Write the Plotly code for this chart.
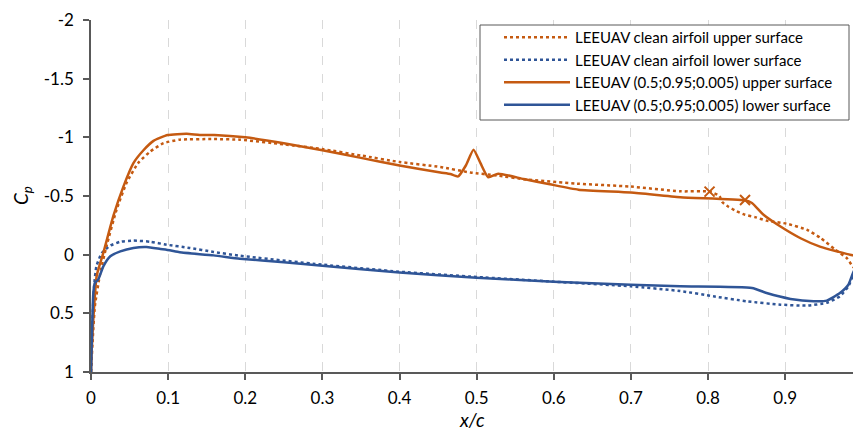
import plotly.graph_objects as go

ORANGE = "#C55A11"
BLUE = "#2F5597"

# Clean airfoil, upper surface
clean_up_x = [0, 0.002, 0.005, 0.012, 0.02, 0.033, 0.046, 0.061, 0.077, 0.094, 0.115, 0.159, 0.193,
              0.25, 0.3, 0.35, 0.4, 0.453, 0.492, 0.526, 0.565, 0.63, 0.7, 0.764, 0.802, 0.815,
              0.818, 0.826, 0.837, 0.848, 0.861, 0.876, 0.902, 0.928, 0.946, 0.965, 0.98, 0.986, 1.0]
clean_up_y = [1.0, 0.75, 0.44, 0.155, -0.07, -0.38, -0.61, -0.78, -0.88, -0.95, -0.98, -0.985, -0.98,
              -0.94, -0.9, -0.845, -0.79, -0.747, -0.70, -0.675, -0.64, -0.605, -0.58, -0.54, -0.537, -0.50,
              -0.45, -0.41, -0.37, -0.34, -0.32, -0.29, -0.264, -0.213, -0.142, -0.043, 0.03, 0.085, 0.2]

# Clean airfoil, lower surface
clean_lo_x = [0, 0.002, 0.004, 0.007, 0.014, 0.025, 0.038, 0.055, 0.077, 0.098, 0.128, 0.159, 0.193,
              0.3, 0.4, 0.5, 0.6, 0.7, 0.764, 0.807, 0.85, 0.894, 0.928, 0.954, 0.971, 0.982, 0.988, 1.0]
clean_lo_y = [1.0, 0.55, 0.27, 0.1, -0.014, -0.077, -0.11, -0.12, -0.11, -0.085, -0.057, -0.023, 0.009,
              0.085, 0.145, 0.19, 0.23, 0.27, 0.31, 0.355, 0.397, 0.426, 0.434, 0.41, 0.355, 0.27, 0.18, 0.05]

# Modified airfoil (0.5;0.95;0.005), upper surface
mod_up_x = [0, 0.001, 0.003, 0.0074, 0.016, 0.029, 0.042, 0.055, 0.068, 0.081, 0.0995, 0.124, 0.141,
            0.16, 0.2, 0.25, 0.3, 0.35, 0.4, 0.453, 0.466, 0.476, 0.486, 0.496, 0.505, 0.515, 0.528,
            0.561, 0.595, 0.632, 0.7, 0.764, 0.848, 0.857, 0.872, 0.894, 0.92, 0.946, 0.967, 0.988, 1.0]
mod_up_y = [1.0, 0.8, 0.55, 0.18, -0.015, -0.33, -0.58, -0.78, -0.89, -0.97, -1.02, -1.03, -1.02,
            -1.02, -1.0, -0.95, -0.89, -0.825, -0.76, -0.70, -0.687, -0.667, -0.76, -0.894, -0.78, -0.66, -0.69,
            -0.645, -0.60, -0.554, -0.53, -0.49, -0.463, -0.44, -0.34, -0.24, -0.14, -0.066, -0.028, 0.006, 0.02]

# Modified airfoil (0.5;0.95;0.005), lower surface
mod_lo_x = [0, 0.0013, 0.003, 0.005, 0.0095, 0.016, 0.025, 0.038, 0.055, 0.072, 0.09, 0.102, 0.115,
            0.159, 0.193, 0.25, 0.3, 0.4, 0.5, 0.6, 0.7, 0.764, 0.857, 0.876, 0.907, 0.937, 0.954,
            0.971, 0.982, 0.988, 1.0]
mod_lo_y = [1.0, 0.67, 0.33, 0.24, 0.21, 0.1, 0.014, -0.028, -0.057, -0.065, -0.048, -0.037, -0.02,
            0.006, 0.034, 0.065, 0.094, 0.153, 0.196, 0.23, 0.256, 0.27, 0.284, 0.327, 0.377, 0.397, 0.392,
            0.327, 0.256, 0.156, 0.0]

# Transition markers
trans_x = [0.802, 0.848]
trans_y = [-0.537, -0.466]

x_ticks = [0, 0.1, 0.2, 0.3, 0.4, 0.5, 0.6, 0.7, 0.8, 0.9]
x_ticktext = ["0", "0.1", "0.2", "0.3", "0.4", "0.5", "0.6", "0.7", "0.8", "0.9"]
y_ticks = [-2, -1.5, -1, -0.5, 0, 0.5, 1]
y_ticktext = ["-2", "-1.5", "-1", "-0.5", "0", "0.5", "1"]

FONT = "Lato, Calibri, sans-serif"

# plot-area geometry (pixels) used to place the legend frame and axis titles
L, R, T, B = 91, 853, 20, 372
W, H = R - L, B - T


def px(x):
    return (x - L) / W


def py(y):
    return (B - y) / H


fig = go.Figure()
fig.add_trace(go.Scatter(x=clean_up_x, y=clean_up_y, mode="lines",
                         name="LEEUAV clean airfoil upper surface",
                         line=dict(color=ORANGE, width=2.5, dash="dot", shape="spline", smoothing=0.5)))
fig.add_trace(go.Scatter(x=clean_lo_x, y=clean_lo_y, mode="lines",
                         name="LEEUAV clean airfoil lower surface",
                         line=dict(color=BLUE, width=2.5, dash="dot", shape="spline", smoothing=0.5)))
fig.add_trace(go.Scatter(x=mod_up_x, y=mod_up_y, mode="lines",
                         name="LEEUAV (0.5;0.95;0.005) upper surface",
                         line=dict(color=ORANGE, width=2.5, shape="spline", smoothing=0.5)))
fig.add_trace(go.Scatter(x=mod_lo_x, y=mod_lo_y, mode="lines",
                         name="LEEUAV (0.5;0.95;0.005) lower surface",
                         line=dict(color=BLUE, width=2.5, shape="spline", smoothing=0.5)))
fig.add_trace(go.Scatter(x=trans_x, y=trans_y, mode="markers", showlegend=False,
                         marker=dict(symbol="x-thin", size=10, line=dict(color=ORANGE, width=2))))

fig.update_layout(
    width=853, height=430,
    margin=dict(l=L, r=853 - R, t=T, b=430 - B),
    paper_bgcolor="white", plot_bgcolor="white",
    font=dict(family=FONT, size=17, color="#000000"),
    showlegend=True,
    legend=dict(x=px(499), y=py(21), xanchor="left", yanchor="top",
                bgcolor="rgba(0,0,0,0)", borderwidth=0,
                font=dict(family=FONT, size=15, color="#000000"),
                itemwidth=66),
    shapes=[dict(type="rect", xref="paper", yref="paper",
                 x0=px(480), x1=px(849), y0=py(120), y1=py(25),
                 line=dict(color="#595959", width=1), fillcolor="white", layer="above")],
    xaxis=dict(range=[0, 0.988], tickvals=x_ticks, ticktext=x_ticktext,
               showline=True, linecolor="#595959", linewidth=1.5,
               ticks="outside", ticklen=6, tickcolor="#595959", tickwidth=1.5,
               showgrid=True, gridcolor="#D9D9D9", griddash="dash", gridwidth=1,
               zeroline=False, ticklabelstandoff=4),
    yaxis=dict(range=[1, -2], tickvals=y_ticks, ticktext=y_ticktext,
               showline=True, linecolor="#595959", linewidth=1.5,
               ticks="outside", ticklen=6, tickcolor="#595959", tickwidth=1.5,
               showgrid=False, zeroline=False, ticklabelstandoff=6),
    annotations=[
        dict(text="<i>C<sub>p</sub></i>", xref="paper", yref="paper",
             x=px(22), y=py(196), showarrow=False, textangle=-90,
             font=dict(family=FONT, size=19, color="#000000"), xanchor="center", yanchor="middle"),
        dict(text="<i>x/c</i>", xref="paper", yref="paper",
             x=px(472), y=py(419), showarrow=False,
             font=dict(family=FONT, size=19, color="#000000"), xanchor="center", yanchor="middle"),
    ],
)

fig.write_html("out.html")
